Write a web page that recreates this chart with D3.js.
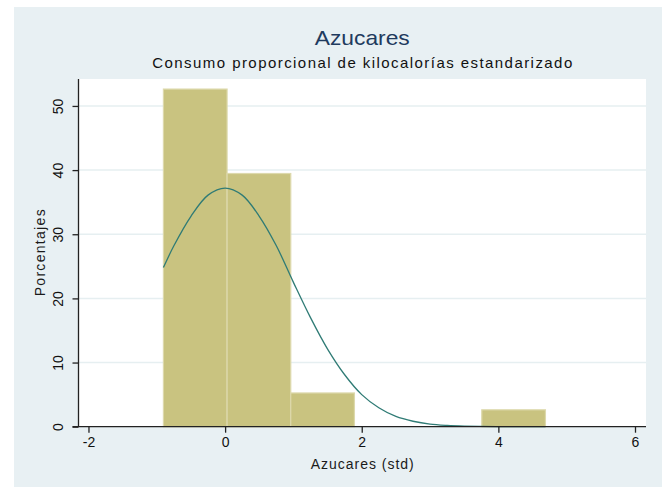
<!DOCTYPE html>
<html>
<head>
<meta charset="utf-8">
<script src="https://cdn.jsdelivr.net/npm/d3@7"></script>
<style>
  html, body { margin: 0; padding: 0; background: #ffffff; }
  svg { display: block; }
  text { font-family: "Liberation Sans", Arial, sans-serif; }
</style>
</head>
<body>
<svg id="chart" width="669" height="488"></svg>
<script>
// Histogram bins (standardized sugar intake) and share of cases per bin, in %
const binEdges = [-0.903, 0.029, 0.961, 1.893, 2.825, 3.757, 4.689];
const binPercent = [52.63, 39.47, 5.26, 0, 0, 2.63];

// Overlaid normal curve, sampled points (x in std units, y in %)
const curveX = [-0.903, -0.75, -0.5, -0.25, 0, 0.25, 0.5, 0.75, 1, 1.25, 1.5, 1.75, 2, 2.25, 2.5, 2.75, 3, 3.25, 3.5, 4, 4.689];
const curveY = [24.8, 28.2, 32.8, 36.1, 37.2, 36.1, 32.8, 28.2, 22.5, 17.0, 12.1, 8.1, 5.0, 2.95, 1.6, 0.85, 0.4, 0.2, 0.1, 0.02, 0];

// Axis ticks
const xTicks = [-2, 0, 2, 4, 6];
const yTicks = [0, 10, 20, 30, 40, 50];

const titleText = "Azucares";
const subtitleText = "Consumo proporcional de kilocalorías estandarizado";
const xTitle = "Azucares (std)";
const yTitle = "Porcentajes";

const svg = d3.select("#chart");

const plot = { left: 78.5, right: 646, top: 79, bottom: 426.7 };

const x = d3.scaleLinear().domain([-2.146, 6.161]).range([plot.left, plot.right]);
const y = d3.scaleLinear().domain([0, 54.2]).range([plot.bottom, plot.top]);

// Outer panel
svg.append("rect")
  .attr("x", 14).attr("y", 7).attr("width", 648).attr("height", 480)
  .attr("fill", "#e8f0f3");

// Plot region
svg.append("rect")
  .attr("x", plot.left).attr("y", plot.top)
  .attr("width", plot.right - plot.left).attr("height", plot.bottom - plot.top)
  .attr("fill", "#ffffff");

// Horizontal grid
svg.append("g")
  .selectAll("line")
  .data(yTicks.filter(d => d > 0))
  .join("line")
  .attr("x1", plot.left).attr("x2", plot.right)
  .attr("y1", d => y(d)).attr("y2", d => y(d))
  .attr("stroke", "#e6eff1").attr("stroke-width", 1.5);

// Bars
const bins = binPercent.map((v, i) => ({ x0: binEdges[i], x1: binEdges[i + 1], v }));
svg.append("g")
  .selectAll("rect")
  .data(bins.filter(d => d.v > 0))
  .join("rect")
  .attr("x", d => x(d.x0))
  .attr("y", d => y(d.v))
  .attr("width", d => x(d.x1) - x(d.x0))
  .attr("height", d => y(0) - y(d.v))
  .attr("fill", "#c9c380")
  .attr("stroke", "#ddd9ac")
  .attr("stroke-width", 1.2);

// Normal density overlay
const pts = curveX.map((d, i) => [d, curveY[i]]);
svg.append("path")
  .datum(pts)
  .attr("d", d3.line().x(d => x(d[0])).y(d => y(d[1])).curve(d3.curveCatmullRom))
  .attr("fill", "none")
  .attr("stroke", "#2f7b75")
  .attr("stroke-width", 1.3);

// Y axis
const yAxis = svg.append("g")
  .attr("transform", `translate(${plot.left},0)`)
  .call(d3.axisLeft(y).tickValues(yTicks).tickSize(6).tickFormat(d3.format("d")));
yAxis.select(".domain").attr("d", `M0,${plot.top}V${plot.bottom}`).attr("stroke", "#222").attr("stroke-width", 1.3);
yAxis.selectAll(".tick line").attr("stroke", "#222").attr("stroke-width", 1.3);
yAxis.selectAll(".tick text")
  .attr("x", 0).attr("dy", 0)
  .attr("transform", "translate(-16,0) rotate(-90)")
  .attr("text-anchor", "middle")
  .attr("font-size", 14)
  .attr("fill", "#111")
  .attr("font-family", "Liberation Sans, Arial, sans-serif");

// X axis
const xAxis = svg.append("g")
  .attr("transform", `translate(0,${plot.bottom})`)
  .call(d3.axisBottom(x).tickValues(xTicks).tickSize(6).tickFormat(d3.format("d")));
xAxis.select(".domain").attr("d", `M${plot.left - 6},0H${plot.right}`).attr("stroke", "#222").attr("stroke-width", 1.3);
xAxis.selectAll(".tick line").attr("stroke", "#222").attr("stroke-width", 1.3);
xAxis.selectAll(".tick text")
  .attr("y", 10).attr("dy", "0.71em")
  .attr("font-size", 14)
  .attr("fill", "#111")
  .attr("font-family", "Liberation Sans, Arial, sans-serif")
  .text(d => d < 0 ? "-" + Math.abs(d) : d);

// Titles
const cx = (plot.left + plot.right) / 2;
svg.append("text")
  .attr("x", cx).attr("y", 45)
  .attr("text-anchor", "middle")
  .attr("font-size", 21)
  .attr("fill", "#1f3b5e")
  .attr("textLength", 95).attr("lengthAdjust", "spacingAndGlyphs")
  .text(titleText);

svg.append("text")
  .attr("x", cx).attr("y", 68)
  .attr("text-anchor", "middle")
  .attr("font-size", 15)
  .attr("fill", "#111")
  .attr("textLength", 420).attr("lengthAdjust", "spacing")
  .text(subtitleText);

svg.append("text")
  .attr("x", cx).attr("y", 469)
  .attr("text-anchor", "middle")
  .attr("font-size", 14)
  .attr("fill", "#1a1a1a")
  .attr("textLength", 103).attr("lengthAdjust", "spacing")
  .text(xTitle);

svg.append("text")
  .attr("transform", `translate(45,${(plot.top + plot.bottom) / 2}) rotate(-90)`)
  .attr("text-anchor", "middle")
  .attr("font-size", 14)
  .attr("fill", "#1a1a1a")
  .attr("textLength", 87).attr("lengthAdjust", "spacing")
  .text(yTitle);
</script>
</body>
</html>
